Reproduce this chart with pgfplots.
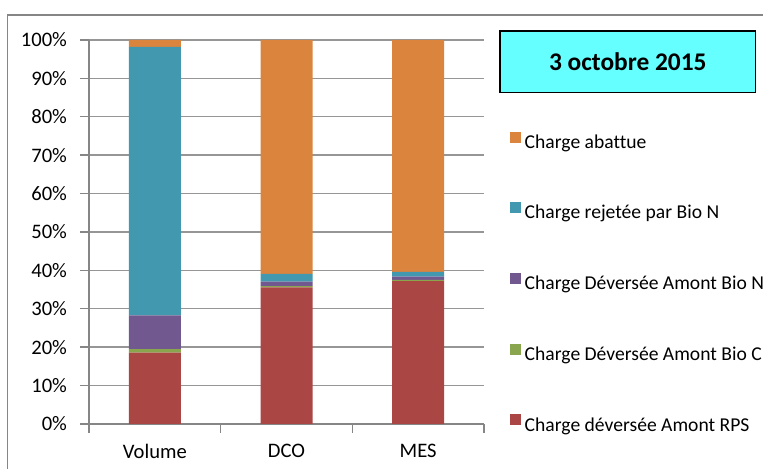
\documentclass[border=0pt]{standalone}
\usepackage{fontspec}
\setmainfont{Carlito}[Ligatures=NoCommon]
\usepackage{pgfplots}
\pgfplotsset{compat=1.18}

\definecolor{cRPS}{RGB}{170,70,67}
\definecolor{cBioC}{RGB}{137,165,78}
\definecolor{cBioN}{RGB}{113,88,143}
\definecolor{cRej}{RGB}{65,152,175}
\definecolor{cAbat}{RGB}{219,132,61}
\definecolor{axgray}{RGB}{134,134,134}
\definecolor{gridgray}{RGB}{150,150,150}
\definecolor{titlebg}{RGB}{102,255,255}

\begin{document}
\begin{tikzpicture}
\useasboundingbox (0,0) rectangle (381.5pt,234.5pt);
\begin{scope}
  \clip (0,0) rectangle (381.5pt,234.5pt);
  \draw[axgray, line width=0.6pt] (3.7pt,-20pt) -- (3.7pt,227pt) -- (420pt,227pt);
\end{scope}

\begin{axis}[
  at={(44.5pt,22.5pt)}, anchor=south west,
  scale only axis,
  width=197.5pt, height=192pt,
  ybar stacked,
  bar width=26pt,
  xmin=-0.5, xmax=2.5,
  ymin=0, ymax=100,
  axis lines*=left,
  axis line style={axgray, line width=0.7pt},
  xtick={-0.5,0.5,1.5,2.5},
  x tick label as interval,
  xticklabels={Volume,DCO,MES},
  ytick={0,10,...,100},
  yticklabels={0\%,10\%,20\%,30\%,40\%,50\%,60\%,70\%,80\%,90\%,100\%},
  tick align=outside,
  major tick length=4.5pt,
  tick style={axgray, line width=0.7pt},
  ymajorgrids,
  grid style={gridgray, line width=0.7pt},
  ticklabel style={font=\fontsize{10.3}{12}\selectfont},
  xticklabel style={yshift=-2pt},
  yticklabel style={xshift=-3pt},
  reverse legend,
  legend image code/.code={\fill[#1] (0pt,0.35pt) rectangle (5.5pt,5.85pt);},
  legend style={
    at={(1.0641,0.7625)}, anchor=north west,
    draw=none, fill=none, inner sep=0pt,
    row sep=25pt, column sep=2pt,
    font=\fontsize{9.8}{12}\selectfont,
    nodes={inner sep=0pt, text height=7pt, text depth=2pt},
  },
  legend cell align=left,
]
\addplot[fill=cRPS, draw=none] coordinates {(0,18.6) (1,35.6) (2,37.2)};
\addlegendentry{Charge déversée Amont RPS}
\addplot[fill=cBioC, draw=none] coordinates {(0,0.9) (1,0.3) (2,0.3)};
\addlegendentry{Charge Déversée Amont Bio C}
\addplot[fill=cBioN, draw=none] coordinates {(0,8.8) (1,1.2) (2,0.9)};
\addlegendentry{Charge Déversée Amont Bio N}
\addplot[fill=cRej, draw=none] coordinates {(0,69.9) (1,2.0) (2,1.2)};
\addlegendentry{Charge rejetée par Bio N}
\addplot[fill=cAbat, draw=none] coordinates {(0,1.8) (1,60.9) (2,60.4)};
\addlegendentry{Charge abattue}
\end{axis}

\node[draw=black, line width=0.7pt, fill=titlebg, minimum width=127.85pt, minimum height=30.85pt,
  inner sep=0pt, font=\bfseries\fontsize{12.7}{14}\selectfont] at (313.9pt,203.6pt) {3 octobre 2015};
\end{tikzpicture}
\end{document}
